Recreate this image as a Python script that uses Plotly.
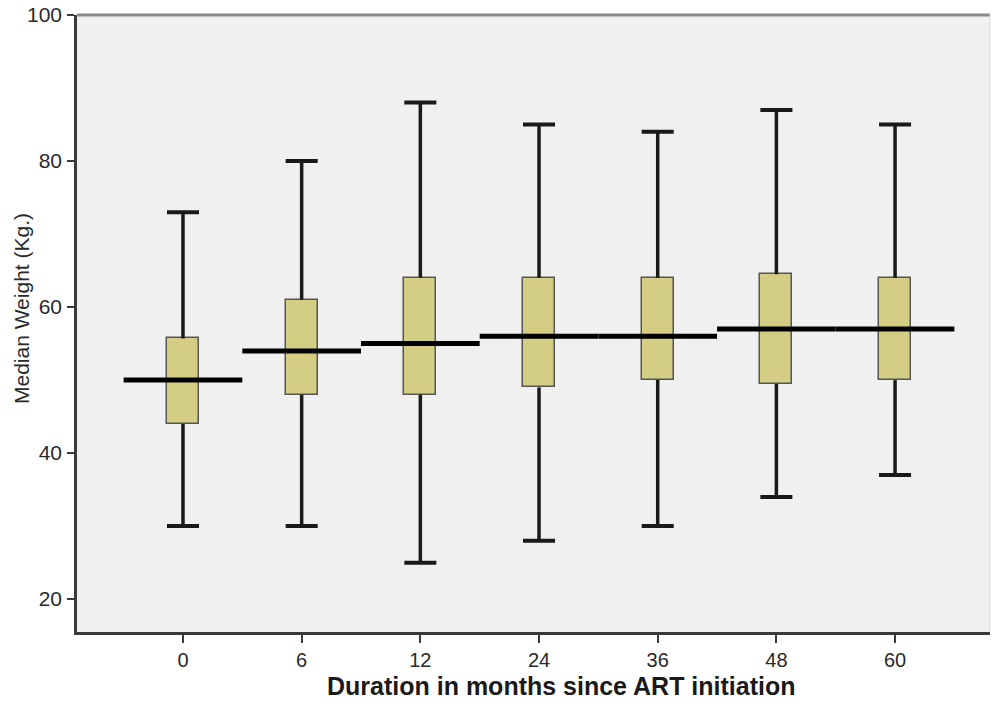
import plotly.graph_objects as go

categories = ["0", "6", "12", "24", "36", "48", "60"]
upper = [73, 80, 88, 85, 84, 87, 85]
q3 = [55.7, 61, 64, 64, 64, 64.5, 64]
median = [50, 54, 55, 56, 56, 57, 57]
q1 = [44, 48, 48, 49, 50, 49.5, 50]
lower = [30, 30, 25, 28, 30, 34, 37]
y_ticks = [20, 40, 60, 80, 100]

pos = list(range(len(categories)))
box_w = 0.27
cap_half = 0.135

fig = go.Figure()

# boxes (Q1..Q3)
fig.add_trace(go.Bar(
    x=pos, y=[b - a for a, b in zip(q1, q3)], base=q1, width=box_w,
    marker=dict(color="#D3CE84", line=dict(color="#555555", width=1.5)),
    hoverinfo="skip", showlegend=False,
))

# whiskers
wx, wy = [], []
for i in pos:
    wx += [i, i, None, i, i, None]
    wy += [q3[i], upper[i], None, q1[i], lower[i], None]
fig.add_trace(go.Scatter(x=wx, y=wy, mode="lines",
                         line=dict(color="#1a1a1a", width=3.5),
                         hoverinfo="skip", showlegend=False))

# caps
cx, cy = [], []
for i in pos:
    cx += [i - cap_half, i + cap_half, None, i - cap_half, i + cap_half, None]
    cy += [upper[i], upper[i], None, lower[i], lower[i], None]
fig.add_trace(go.Scatter(x=cx, y=cy, mode="lines",
                         line=dict(color="#1a1a1a", width=4),
                         hoverinfo="skip", showlegend=False))

# medians spanning full category width
mx, my = [], []
for i in pos:
    mx += [i - 0.5, i + 0.5, None]
    my += [median[i], median[i], None]
fig.add_trace(go.Scatter(x=mx, y=my, mode="lines",
                         line=dict(color="#000000", width=5),
                         hoverinfo="skip", showlegend=False))

fig.update_layout(
    width=994, height=707,
    margin=dict(l=77, r=4, t=15, b=75),
    paper_bgcolor="white",
    plot_bgcolor="#F0F0F0",
    font=dict(family="Liberation Sans, Arial, sans-serif", color="#2a2a2a"),
    bargap=0,
    xaxis=dict(
        range=[-0.893, 6.80], tickvals=pos, ticktext=categories,
        showline=True, linecolor="#3a3a3a", linewidth=2.5,
        ticks="outside", ticklen=8, tickwidth=2, tickcolor="#3a3a3a",
        showgrid=False, zeroline=False, tickfont=dict(size=20),
        automargin=False,
    ),
    yaxis=dict(
        range=[15.5, 100], tickvals=y_ticks,
        showline=True, linecolor="#3a3a3a", linewidth=2.5,
        ticks="outside", ticklen=7, tickwidth=2, tickcolor="#3a3a3a",
        showgrid=False, zeroline=False, tickfont=dict(size=21),
        ticklabelstandoff=1, ticklabeloverflow="allow", automargin=False,
    ),
    shapes=[
        dict(type="line", xref="paper", yref="paper", x0=0, x1=1, y0=1, y1=1,
             line=dict(color="#8c8c8c", width=3)),
        dict(type="line", xref="paper", yref="paper", x0=1, x1=1, y0=0, y1=1,
             line=dict(color="#dcdcdc", width=1)),
    ],
    annotations=[
        dict(text="<b>Duration in months since ART initiation</b>",
             xref="paper", yref="paper", x=0.5307, y=-0.0875,
             xanchor="center", yanchor="middle", showarrow=False,
             font=dict(size=25, color="#1a1a1a")),
        dict(text="Median Weight (Kg.)", textangle=-90,
             xref="paper", yref="paper", x=-0.0613, y=0.5235,
             xanchor="center", yanchor="middle", showarrow=False,
             font=dict(size=21, color="#2a2a2a")),
    ],
)

fig.write_html(
    "out.html",
    config={"displayModeBar": False},
    post_script="document.body.style.margin='0';document.body.style.overflow='hidden';",
)
